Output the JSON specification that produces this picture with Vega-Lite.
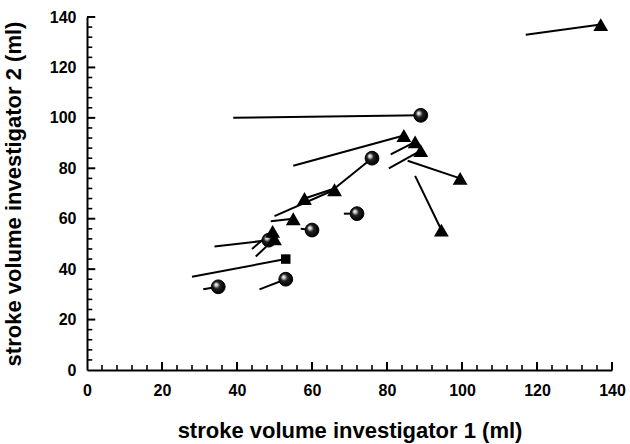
{
  "$schema": "https://vega.github.io/schema/vega-lite/v6.json",
  "width": 525,
  "height": 353,
  "autosize": {"type": "none"},
  "padding": {"left": 87, "top": 17, "right": 18, "bottom": 74},
  "background": "white",
  "config": {
    "view": {"stroke": null},
    "axis": {
      "domainColor": "black",
      "domainWidth": 2,
      "ticks": false,
      "labelFont": "Liberation Sans",
      "labelFontWeight": "bold",
      "labelFontSize": 16,
      "labelColor": "black",
      "labelOverlap": false,
      "labelFlush": false,
      "titleFont": "Liberation Sans",
      "titleFontWeight": "bold",
      "titleFontSize": 22,
      "titleColor": "black",
      "grid": false
    }
  },
  "datasets": {
    "points": [
      {"x1": 117, "y1": 133, "x2": 137, "y2": 137, "type": "triangle"},
      {"x1": 39, "y1": 100, "x2": 89, "y2": 101, "type": "circle"},
      {"x1": 55, "y1": 81, "x2": 84.5, "y2": 93, "type": "triangle"},
      {"x1": 81, "y1": 85.5, "x2": 87.5, "y2": 90.5, "type": "triangle"},
      {"x1": 80.5, "y1": 80, "x2": 89, "y2": 87, "type": "triangle"},
      {"x1": 85.5, "y1": 83, "x2": 99.5, "y2": 76, "type": "triangle"},
      {"x1": 87.5, "y1": 77, "x2": 94.5, "y2": 55.5, "type": "triangle"},
      {"x1": 66, "y1": 72, "x2": 76, "y2": 84, "type": "circle"},
      {"x1": 50, "y1": 61, "x2": 66, "y2": 71.5, "type": "triangle"},
      {"x1": 66, "y1": 72, "x2": 58, "y2": 68, "type": "triangle"},
      {"x1": 68.5, "y1": 62, "x2": 72, "y2": 62, "type": "circle"},
      {"x1": 49, "y1": 59, "x2": 55, "y2": 60, "type": "triangle"},
      {"x1": 57, "y1": 56, "x2": 60, "y2": 55.5, "type": "circle"},
      {"x1": 44, "y1": 48, "x2": 49.5, "y2": 55, "type": "triangle"},
      {"x1": 45, "y1": 45, "x2": 50, "y2": 52, "type": "triangle"},
      {"x1": 34, "y1": 49, "x2": 48.5, "y2": 51.5, "type": "circle"},
      {"x1": 28, "y1": 37, "x2": 53, "y2": 44, "type": "square"},
      {"x1": 46, "y1": 32, "x2": 53, "y2": 36, "type": "circle"},
      {"x1": 31, "y1": 32, "x2": 35, "y2": 33, "type": "circle"}
    ],
    "majorTicks": [
      {"t": 20}, {"t": 40}, {"t": 60}, {"t": 80}, {"t": 100}, {"t": 120}, {"t": 140}
    ],
    "minorTicks": [
      {"t": 4}, {"t": 8}, {"t": 12}, {"t": 16}, {"t": 24}, {"t": 28}, {"t": 32}, {"t": 36},
      {"t": 44}, {"t": 48}, {"t": 52}, {"t": 56}, {"t": 64}, {"t": 68}, {"t": 72}, {"t": 76},
      {"t": 84}, {"t": 88}, {"t": 92}, {"t": 96}, {"t": 104}, {"t": 108}, {"t": 112}, {"t": 116},
      {"t": 124}, {"t": 128}, {"t": 132}, {"t": 136}
    ]
  },
  "data": {"name": "points"},
  "layer": [
    {
      "mark": {"type": "rule", "color": "black", "strokeWidth": 2},
      "encoding": {
        "x": {
          "field": "x1", "type": "quantitative",
          "scale": {"domain": [0, 140], "nice": false, "zero": false},
          "axis": {
            "title": "stroke volume investigator 1 (ml)",
            "values": [0, 20, 40, 60, 80, 100, 120, 140],
            "labelPadding": 12,
            "titlePadding": 22
          }
        },
        "y": {
          "field": "y1", "type": "quantitative",
          "scale": {"domain": [0, 140], "nice": false, "zero": false},
          "axis": {
            "title": "stroke volume investigator 2 (ml)",
            "values": [0, 20, 40, 60, 80, 100, 120, 140],
            "labelPadding": 11,
            "titlePadding": 24
          }
        },
        "x2": {"field": "x2"},
        "y2": {"field": "y2"}
      }
    },
    {
      "data": {"name": "majorTicks"},
      "mark": {"type": "rule", "color": "black", "strokeWidth": 2},
      "encoding": {
        "x": {"field": "t", "type": "quantitative"},
        "y": {"datum": 0, "type": "quantitative"},
        "y2": {"datum": 3.2}
      }
    },
    {
      "data": {"name": "minorTicks"},
      "mark": {"type": "rule", "color": "black", "strokeWidth": 1.6},
      "encoding": {
        "x": {"field": "t", "type": "quantitative"},
        "y": {"datum": 0, "type": "quantitative"},
        "y2": {"datum": 2}
      }
    },
    {
      "data": {"name": "majorTicks"},
      "mark": {"type": "rule", "color": "black", "strokeWidth": 2},
      "encoding": {
        "y": {"field": "t", "type": "quantitative"},
        "x": {"datum": 0, "type": "quantitative"},
        "x2": {"datum": 2.2}
      }
    },
    {
      "data": {"name": "minorTicks"},
      "mark": {"type": "rule", "color": "black", "strokeWidth": 1.6},
      "encoding": {
        "y": {"field": "t", "type": "quantitative"},
        "x": {"datum": 0, "type": "quantitative"},
        "x2": {"datum": 1.4}
      }
    },
    {
      "transform": [{"filter": "datum.type === 'circle'"}],
      "mark": {
        "type": "point", "shape": "circle", "size": 190, "filled": true,
        "stroke": "black", "strokeWidth": 1, "opacity": 1,
        "fill": {"gradient": "radial", "x1": 0.33, "y1": 0.33, "r1": 0, "x2": 0.45, "y2": 0.45, "r2": 0.55,
          "stops": [{"offset": 0, "color": "#ffffff"}, {"offset": 0.18, "color": "#cccccc"}, {"offset": 0.45, "color": "#222222"}, {"offset": 1, "color": "#000000"}]}
      },
      "encoding": {
        "x": {"field": "x2", "type": "quantitative"},
        "y": {"field": "y2", "type": "quantitative"}
      }
    },
    {
      "transform": [{"filter": "datum.type === 'triangle'"}],
      "mark": {"type": "point", "shape": "triangle-up", "size": 220, "filled": true, "fill": "black", "opacity": 1},
      "encoding": {
        "x": {"field": "x2", "type": "quantitative"},
        "y": {"field": "y2", "type": "quantitative"}
      }
    },
    {
      "transform": [{"filter": "datum.type === 'square'"}],
      "mark": {"type": "point", "shape": "square", "size": 90, "filled": true, "fill": "black", "opacity": 1},
      "encoding": {
        "x": {"field": "x2", "type": "quantitative"},
        "y": {"field": "y2", "type": "quantitative"}
      }
    }
  ]
}
